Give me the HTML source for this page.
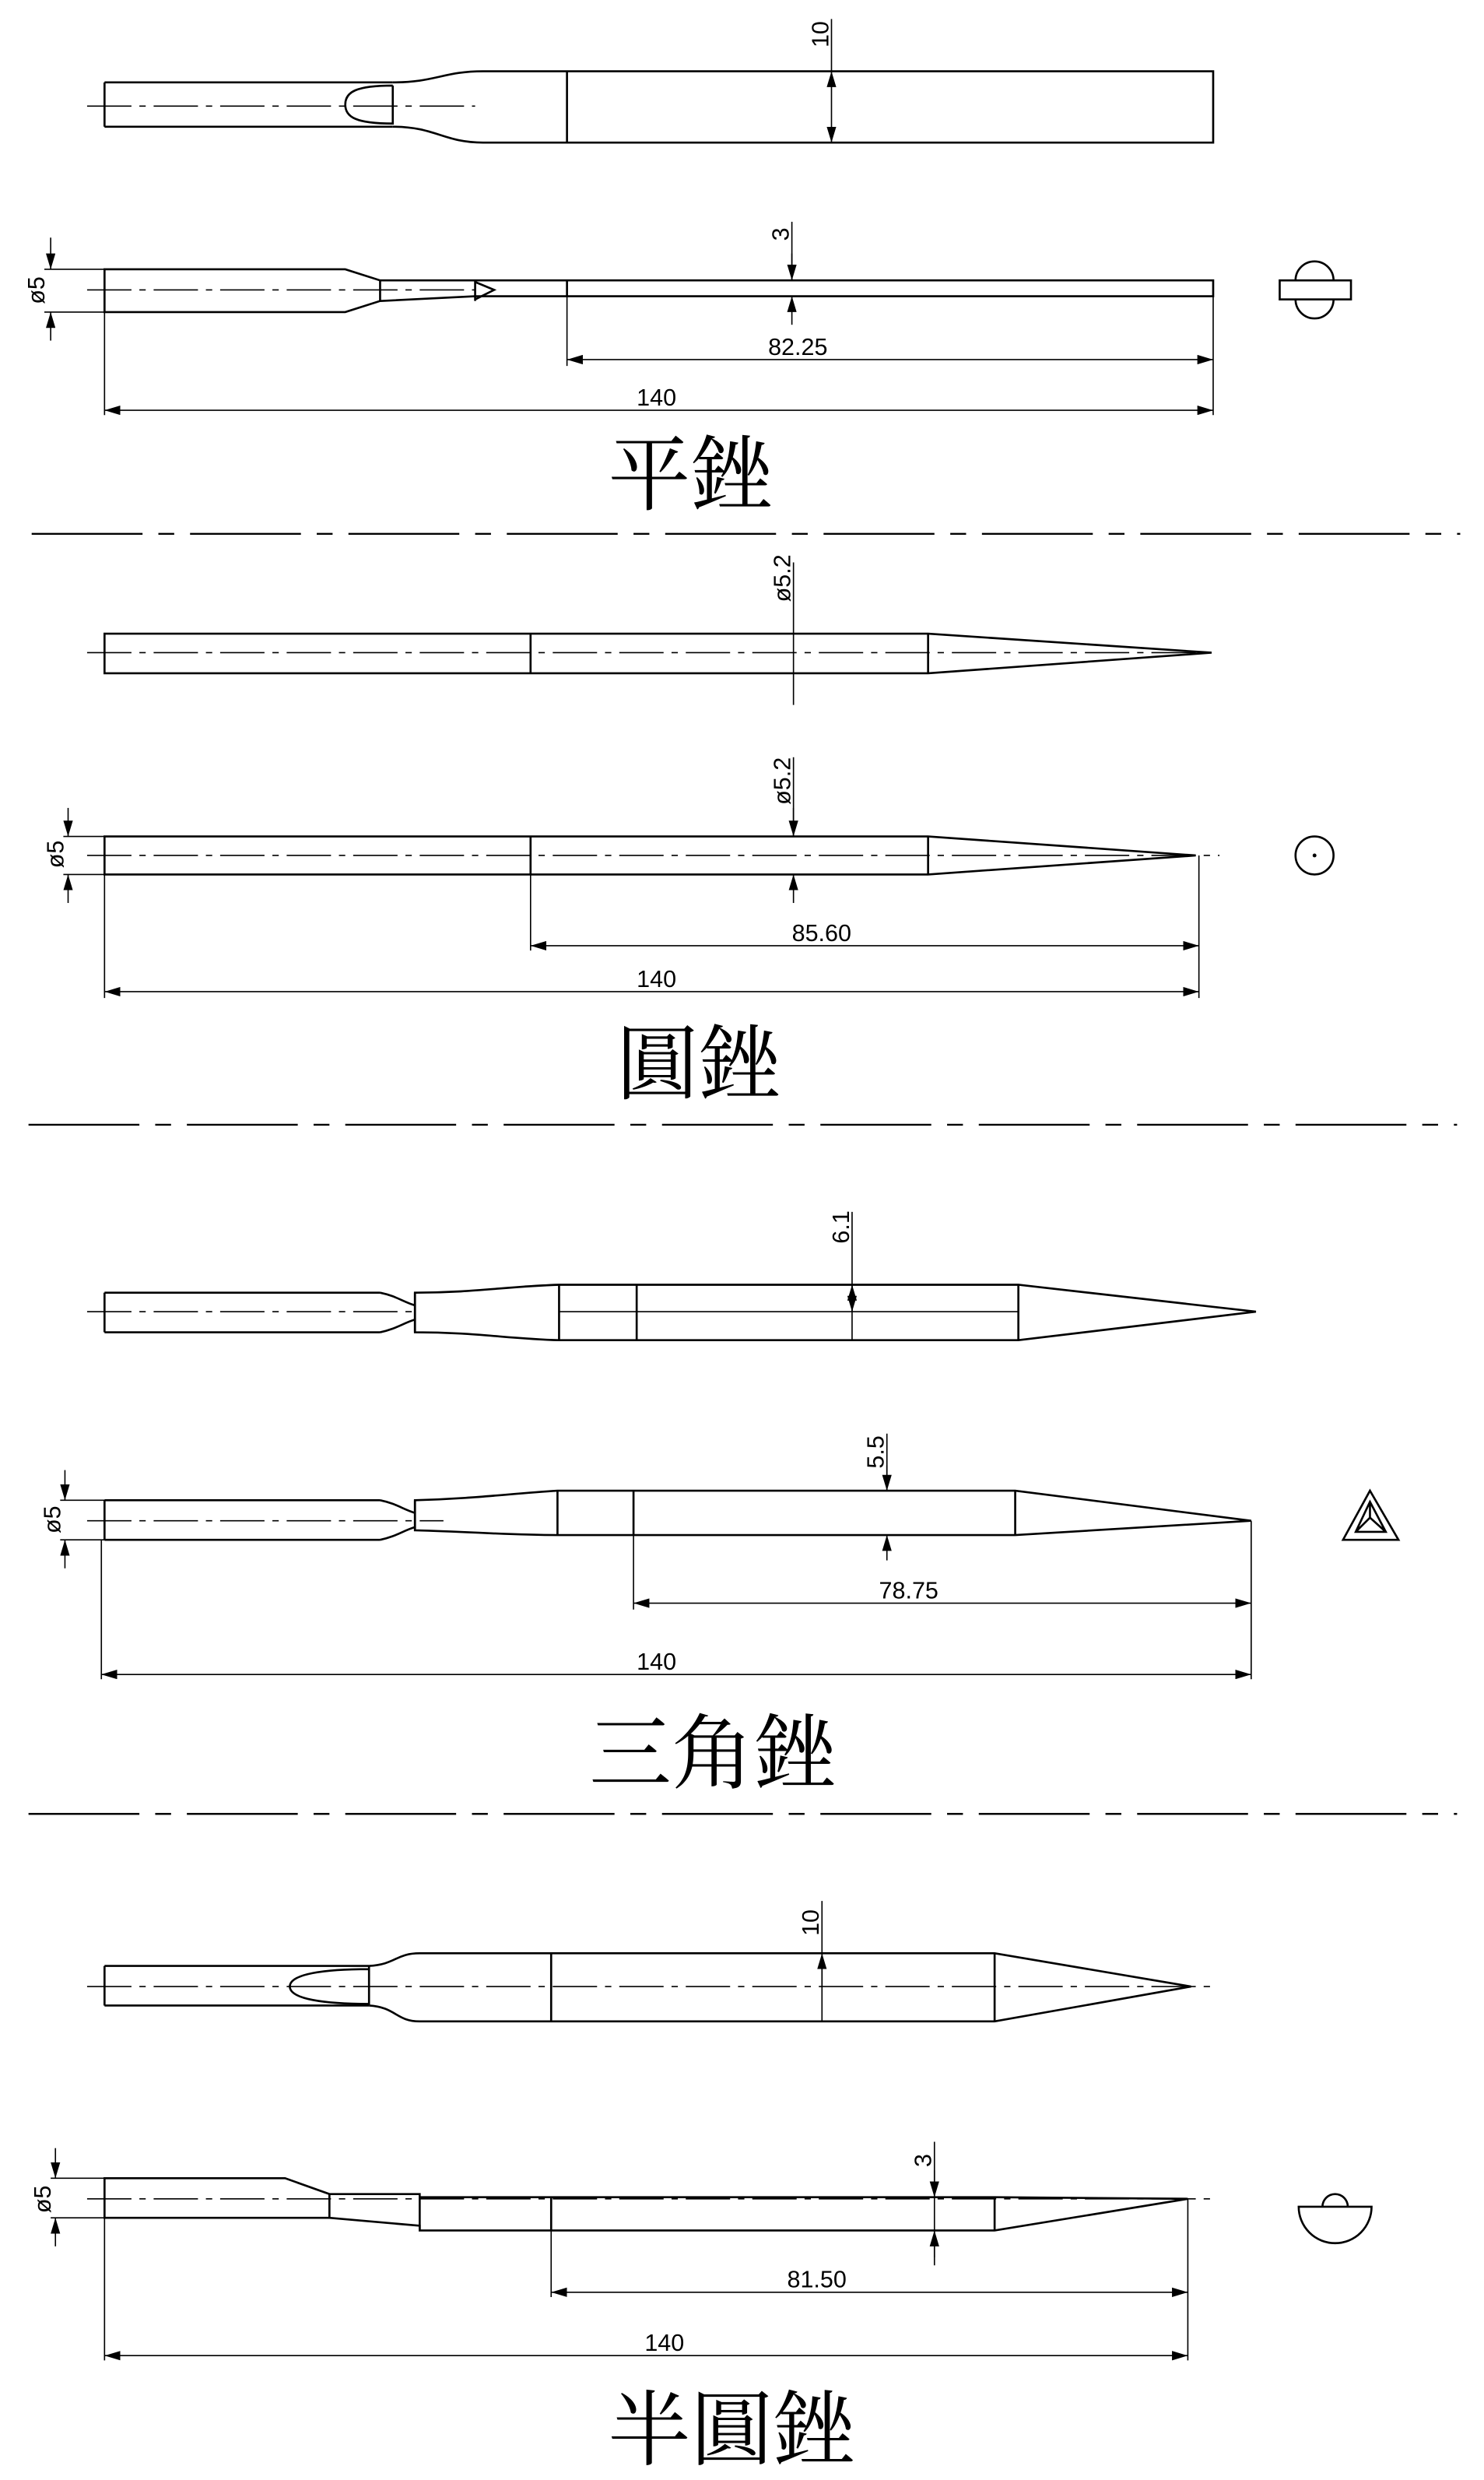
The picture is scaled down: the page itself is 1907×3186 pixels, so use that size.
<!DOCTYPE html>
<html><head><meta charset="utf-8"><style>
html,body{margin:0;padding:0;background:#fff}
svg{display:block}
.l{fill:none;stroke:#000;stroke-width:1.3}
.t{fill:none;stroke:#000;stroke-width:0.8}
.c{fill:none;stroke:#000;stroke-width:0.8;stroke-dasharray:28 5 4 5}
.d{fill:none;stroke:#000;stroke-width:1.2;stroke-dasharray:70 10 10 10}
.n{font-family:"Liberation Sans",sans-serif;font-size:15px;fill:#000}
.ti{font-family:"Liberation Serif","Noto Serif CJK SC",serif;font-size:52px;fill:#000}
</style></head><body>
<svg width="1907" height="3186" viewBox="0 0 937 1565.5" preserveAspectRatio="none">
<defs>
<marker id="a" markerWidth="10" markerHeight="6" refX="10" refY="3" orient="auto-start-reverse" markerUnits="userSpaceOnUse"><path d="M0,0 L10,3 L0,6z" fill="#000"/></marker>
</defs>

<!-- ===== 平銼 ===== -->
<path class="l" d="M66,52 H248 M66,80 H248 M66,52 V80"/>
<path class="l" d="M248,52 C275,52 280,45 305,45 H766 V90 H305 C280,90 275,80 248,80"/>
<path class="l" d="M248,54 C225,54 218,58 218,66 C218,74 225,78 248,78 V54"/>
<line class="l" x1="358" y1="45" x2="358" y2="90"/>
<line class="c" x1="55" y1="67" x2="300" y2="67"/>
<line class="t" x1="525" y1="12" x2="525" y2="45" />
<line class="t" x1="525" y1="45" x2="525" y2="90" marker-start="url(#a)" marker-end="url(#a)"/>
<text class="n" transform="translate(523,30) rotate(-90)">10</text>

<path class="l" d="M66,170 H218 L240,177 H766 V187 H300 L240,190 L218,197 H66 Z"/>
<path class="l" d="M240,177 V190 M300,177 V190 M300,178 L312,183 L300,189"/>
<line class="l" x1="358" y1="177" x2="358" y2="187"/>
<line class="c" x1="55" y1="183" x2="300" y2="183"/>
<line class="t" x1="500" y1="140" x2="500" y2="177"/>
<line class="t" x1="500" y1="160" x2="500" y2="177" marker-end="url(#a)"/>
<line class="t" x1="500" y1="187" x2="500" y2="205" marker-start="url(#a)"/>
<text class="n" transform="translate(498,152) rotate(-90)">3</text>
<path class="t" d="M28,170 H66 M28,197 H66"/>
<line class="t" x1="32" y1="150" x2="32" y2="170" marker-end="url(#a)"/>
<line class="t" x1="32" y1="197" x2="32" y2="215" marker-start="url(#a)"/>
<text class="n" transform="translate(28,192) rotate(-90)">ø5</text>
<path class="t" d="M358,187 V231 M766,187 V262 M66,197 V262"/>
<line class="t" x1="358" y1="227" x2="766" y2="227" marker-start="url(#a)" marker-end="url(#a)"/>
<text class="n" x="485" y="224">82.25</text>
<line class="t" x1="66" y1="259" x2="766" y2="259" marker-start="url(#a)" marker-end="url(#a)"/>
<text class="n" x="402" y="256">140</text>
<rect class="l" x="808" y="177" width="45" height="12"/>
<path class="l" d="M818,189 A12,12 0 0 0 842,189"/>
<path class="l" d="M818,177 A12,12 0 0 1 842,177"/>
<text class="ti" x="384" y="318">平銼</text>
<line class="d" x1="20" y1="337" x2="922" y2="337"/>

<!-- ===== 圓銼 ===== -->
<path class="l" d="M66,400 H586 L765,412 L586,425 H66 Z M586,400 V425 M335,400 V425"/>
<line class="c" x1="55" y1="412" x2="760" y2="412"/>
<line class="t" x1="501" y1="355" x2="501" y2="445"/>
<text class="n" transform="translate(499,380) rotate(-90)">ø5.2</text>

<path class="l" d="M66,528 H586 L755,540 L586,552 H66 Z M586,528 V552 M335,528 V552"/>
<line class="c" x1="55" y1="540" x2="770" y2="540"/>
<line class="t" x1="501" y1="478" x2="501" y2="528"/>
<line class="t" x1="501" y1="510" x2="501" y2="528" marker-end="url(#a)"/>
<line class="t" x1="501" y1="552" x2="501" y2="570" marker-start="url(#a)"/>
<text class="n" transform="translate(499,508) rotate(-90)">ø5.2</text>
<path class="t" d="M40,528 H66 M40,552 H66"/>
<line class="t" x1="43" y1="510" x2="43" y2="528" marker-end="url(#a)"/>
<line class="t" x1="43" y1="552" x2="43" y2="570" marker-start="url(#a)"/>
<text class="n" transform="translate(40,548) rotate(-90)">ø5</text>
<path class="t" d="M335,552 V600 M757,540 V630 M66,552 V630"/>
<line class="t" x1="335" y1="597" x2="757" y2="597" marker-start="url(#a)" marker-end="url(#a)"/>
<text class="n" x="500" y="594">85.60</text>
<line class="t" x1="66" y1="626" x2="757" y2="626" marker-start="url(#a)" marker-end="url(#a)"/>
<text class="n" x="402" y="623">140</text>
<circle class="l" cx="830" cy="540" r="12"/>
<circle cx="830" cy="540" r="1.2"/>
<text class="ti" x="389" y="690">圓銼</text>
<line class="d" x1="18" y1="710" x2="920" y2="710"/>

<!-- ===== 三角銼 ===== -->
<path class="l" d="M66,816 H240 M66,841 H240 M66,816 V841"/>
<path class="l" d="M240,816 C250,818 255,822 262,824 M240,841 C250,839 255,835 262,833"/>
<path class="l" d="M262,816 C300,816 320,812 353,811 H643 L793,828 L643,846 H353 C320,845 300,841 262,841 Z"/>
<path class="l" d="M353,811 V846 M402,811 V846 M643,811 V846 M262,816 V841"/>
<line class="t" x1="353" y1="828" x2="643" y2="828"/>
<line class="c" x1="55" y1="828" x2="260" y2="828"/>
<line class="t" x1="538" y1="765" x2="538" y2="846"/>
<line class="t" x1="538" y1="811" x2="538" y2="828" marker-start="url(#a)" marker-end="url(#a)"/>
<text class="n" transform="translate(536,785) rotate(-90)">6.1</text>

<path class="l" d="M66,947 H240 M66,972 H240 M66,947 V972"/>
<path class="l" d="M240,947 C250,949 255,953 262,955 M240,972 C250,970 255,966 262,964"/>
<path class="l" d="M262,947 C300,946 320,943 352,941 H641 L790,960 L641,969 H352 C320,969 300,967 262,966 Z"/>
<path class="l" d="M352,941 V969 M400,941 V969 M641,941 V969 M262,947 V966"/>
<line class="c" x1="55" y1="960" x2="280" y2="960"/>
<line class="t" x1="560" y1="905" x2="560" y2="941"/>
<line class="t" x1="560" y1="925" x2="560" y2="941" marker-end="url(#a)"/>
<line class="t" x1="560" y1="969" x2="560" y2="985" marker-start="url(#a)"/>
<text class="n" transform="translate(558,927) rotate(-90)">5.5</text>
<path class="t" d="M38,947 H66 M38,972 H66"/>
<line class="t" x1="41" y1="928" x2="41" y2="947" marker-end="url(#a)"/>
<line class="t" x1="41" y1="972" x2="41" y2="990" marker-start="url(#a)"/>
<text class="n" transform="translate(38,968) rotate(-90)">ø5</text>
<path class="t" d="M400,969 V1016 M790,960 V1060 M64,972 V1060"/>
<line class="t" x1="400" y1="1012" x2="790" y2="1012" marker-start="url(#a)" marker-end="url(#a)"/>
<text class="n" x="555" y="1009">78.75</text>
<line class="t" x1="64" y1="1057" x2="790" y2="1057" marker-start="url(#a)" marker-end="url(#a)"/>
<text class="n" x="402" y="1054">140</text>
<path class="l" d="M865,941 L848,972 H883 Z"/>
<path class="l" d="M865,948 L856,967 H875 Z M865,948 V958 M856,967 L865,958 L875,967"/>
<text class="ti" x="372" y="1125">三角銼</text>
<line class="d" x1="18" y1="1145" x2="920" y2="1145"/>

<!-- ===== 半圓銼 ===== -->
<path class="l" d="M66,1241 H233 M66,1266 H233 M66,1241 V1266"/>
<path class="l" d="M233,1243 C205,1243 183,1246 183,1254 C183,1262 205,1265 233,1265 V1241"/>
<path class="l" d="M233,1241 C250,1240 250,1233 265,1233 H628 L752,1254 L628,1276 H265 C250,1276 250,1267 233,1266"/>
<path class="l" d="M348,1233 V1276 M628,1233 V1276"/>
<line class="c" x1="55" y1="1254" x2="765" y2="1254"/>
<line class="t" x1="519" y1="1200" x2="519" y2="1276"/>
<line class="t" x1="519" y1="1233" x2="519" y2="1254" marker-start="url(#a)"/>
<text class="n" transform="translate(517,1222) rotate(-90)">10</text>

<path class="l" d="M66,1375 H180 L208,1385 H265 V1387 H628 L750,1388 L628,1408 H265 V1405 L208,1400 H66 Z"/>
<path class="l" d="M208,1385 V1400 M265,1387 V1408 M348,1387 V1408 M628,1387 V1408"/>
<line class="c" x1="55" y1="1388" x2="765" y2="1388"/>
<line class="t" x1="590" y1="1352" x2="590" y2="1430"/>
<line class="t" x1="590" y1="1370" x2="590" y2="1387" marker-end="url(#a)"/>
<line class="t" x1="590" y1="1408" x2="590" y2="1425" marker-start="url(#a)"/>
<text class="n" transform="translate(588,1368) rotate(-90)">3</text>
<path class="t" d="M32,1375 H66 M32,1400 H66"/>
<line class="t" x1="35" y1="1356" x2="35" y2="1375" marker-end="url(#a)"/>
<line class="t" x1="35" y1="1400" x2="35" y2="1418" marker-start="url(#a)"/>
<text class="n" transform="translate(32,1397) rotate(-90)">ø5</text>
<path class="t" d="M348,1408 V1450 M750,1388 V1490 M66,1400 V1490"/>
<line class="t" x1="348" y1="1447" x2="750" y2="1447" marker-start="url(#a)" marker-end="url(#a)"/>
<text class="n" x="497" y="1444">81.50</text>
<line class="t" x1="66" y1="1487" x2="750" y2="1487" marker-start="url(#a)" marker-end="url(#a)"/>
<text class="n" x="407" y="1484">140</text>
<path class="l" d="M820,1393 H866 A23,23 0 0 1 820,1393 Z"/>
<path class="l" d="M835,1393 A8,8 0 0 1 851,1393"/>
<text class="ti" x="384" y="1552">半圓銼</text>
</svg>
</body></html>
